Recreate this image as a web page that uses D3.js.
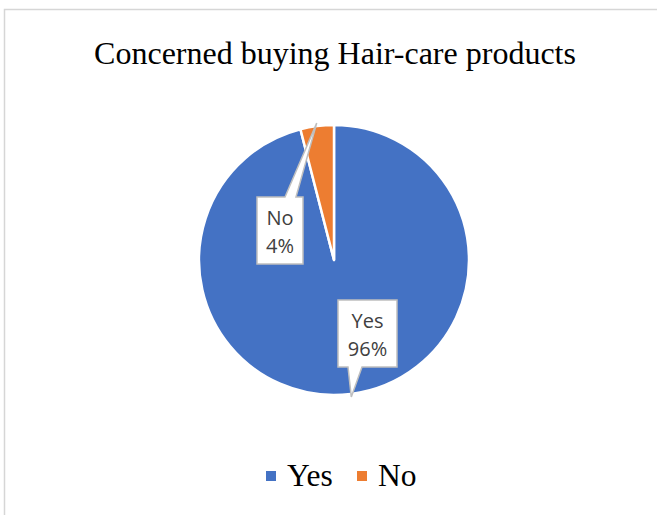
<!DOCTYPE html>
<html>
<head>
<meta charset="utf-8">
<script src="https://cdn.jsdelivr.net/npm/d3@7"></script>
<style>
  html, body { margin: 0; padding: 0; background: #fff; }
  svg { display: block; }
</style>
</head>
<body>
<svg id="chart" width="657" height="515"></svg>
<script>
// Survey answers and their shares
const categories = ["Yes", "No"];
const shares = [96, 4];
const sliceColors = ["#4472C4", "#ED7D31"];
const chartTitle = "Concerned buying Hair-care products";

const W = 657, H = 515;
const cx = 334, cy = 260, radius = 135;

const svg = d3.select("#chart");

// Chart area frame
svg.append("path")
  .attr("d", `M4.5,${H} V9.5 H${W}`)
  .attr("fill", "none")
  .attr("stroke", "#d6d6d6")
  .attr("stroke-width", 1.5);

// Title
svg.append("text")
  .attr("x", 335)
  .attr("y", 64)
  .attr("text-anchor", "middle")
  .attr("font-family", "'Liberation Serif', 'Times New Roman', serif")
  .attr("font-size", 32)
  .attr("fill", "#000")
  .text(chartTitle);

const color = d3.scaleOrdinal().domain(categories).range(sliceColors);

const data = categories.map((c, i) => ({ label: c, value: shares[i] }));
const pie = d3.pie().sort(null).value(d => d.value);
const arcs = pie(data);
const arc = d3.arc().innerRadius(0).outerRadius(radius);

const g = svg.append("g").attr("transform", `translate(${cx},${cy})`);

g.selectAll("path.slice")
  .data(arcs)
  .join("path")
  .attr("class", "slice")
  .attr("d", arc)
  .attr("fill", d => color(d.data.label))
  .attr("stroke", "#fff")
  .attr("stroke-width", 2.5)
  .attr("stroke-linejoin", "round");

// Data callouts: box placement relative to pie centre, pointer toward slice middle
const calloutBoxes = {
  "Yes": { x: 4, y: 40, w: 59, h: 67, side: "bottom" },
  "No":  { x: -77, y: -63, w: 46, h: 67, side: "top" }
};

const labelFont = "'Open Sans', 'Noto Sans', sans-serif";

arcs.forEach(a => {
  const b = calloutBoxes[a.data.label];
  const mid = (a.startAngle + a.endAngle) / 2;
  const tipR = radius + 3;
  const tx = Math.sin(mid) * tipR;
  const ty = -Math.cos(mid) * tipR;

  const x0 = b.x, x1 = b.x + b.w, y0 = b.y, y1 = b.y + b.h;
  let d;
  if (b.side === "bottom") {
    const bx0 = x0 + 10, bx1 = x0 + 24;
    d = `M${x0},${y0} H${x1} V${y1} H${bx1} L${tx},${ty} L${bx0},${y1} H${x0} Z`;
  } else {
    const bx0 = x0 + 28, bx1 = x0 + 39;
    d = `M${x0},${y0} H${bx0} L${tx},${ty} L${bx1},${y0} H${x1} V${y1} H${x0} Z`;
  }
  g.append("path")
    .attr("d", d)
    .attr("fill", "#fff")
    .attr("stroke", "#bfbfbf")
    .attr("stroke-width", 1.5)
    .attr("stroke-linejoin", "miter");

  const pct = Math.round(a.data.value / d3.sum(shares) * 100) + "%";
  const t = g.append("text")
    .attr("text-anchor", "middle")
    .attr("font-family", labelFont)
    .attr("font-size", 20)
    .attr("fill", "#404040");
  t.append("tspan").attr("x", x0 + b.w / 2).attr("y", y0 + 28).text(a.data.label);
  t.append("tspan").attr("x", x0 + b.w / 2).attr("y", y0 + 56).text(pct);
});

// Legend
const legendFont = "'Liberation Serif', 'Times New Roman', serif";
const legendItems = [
  { label: categories[0], sx: 266, tx: 287 },
  { label: categories[1], sx: 357, tx: 378 }
];
const lg = svg.append("g");
legendItems.forEach(it => {
  lg.append("rect")
    .attr("x", it.sx).attr("y", 471)
    .attr("width", 10).attr("height", 10)
    .attr("fill", color(it.label));
  lg.append("text")
    .attr("x", it.tx).attr("y", 486)
    .attr("font-family", legendFont)
    .attr("font-size", 31.5)
    .attr("fill", "#000")
    .text(it.label);
});
</script>
</body>
</html>
